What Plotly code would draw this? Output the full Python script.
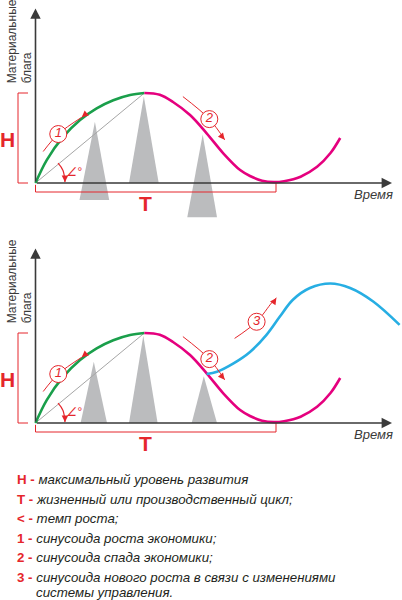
import plotly.graph_objects as go

# cycle curves, time units (t) and level units (v)
growth_t = [0, 1.02, 2.53, 4.05, 5.56, 7.07, 8.6, 9.9]
growth_v = [0, 2.55, 5.15, 7.0, 8.3, 9.2, 9.78, 10]
decline_t = [9.9, 11.3, 12.5, 14.05, 15.56, 17.07, 18.6, 19.5, 20.6, 21.7, 22.6, 24.1, 25.6, 26.8, 27.7]
decline_v = [10, 9.8, 9.0, 7.55, 5.52, 3.3, 1.44, 0.78, 0.25, 0.1, 0.2, 0.7, 1.8, 3.3, 5.0]
new_t = [15.56, 16.5, 18.0, 19.5, 21.0, 22.2, 23.4, 24.95, 26.8, 28.6, 30.7, 33.1]
new_v = [5.44, 5.7, 6.63, 7.9, 9.8, 11.8, 13.7, 15.0, 15.5, 15.0, 13.5, 10.9]

# gray spikes (triangles) for each chart
spikes_top_t = [[4.0, 5.4, 6.7], [8.5, 9.85, 11.2], [13.8, 15.2, 16.5]]
spikes_top_v = [[-1.9, 6.8, -1.9], [0, 9.6, 0], [-3.8, 5.4, -3.8]]
spikes_bot_t = [[4.1, 5.3, 6.5], [8.5, 9.8, 11.1], [14.2, 15.3, 16.5]]
spikes_bot_v = [[0, 6.8, 0], [0, 9.7, 0], [0, 5.2, 0]]

# numbered arrows: start, circle, end
arrow1_t = [0.7, 2.07, 4.2]
arrow1_v = [3.5, 5.44, 7.3]
arrow2_t = [13.4, 15.8, 17.2]
arrow2_v = [9.6, 7.1, 4.8]
arrow3_t = [18.1, 20.1, 21.5, 21.9]
arrow3_v = [9.4, 11.25, 13.4, 13.9]

# angle arc near origin
arc_t = [2.05, 2.5, 2.68]
arc_v = [2.2, 1.4, 0.1]

legend_keys = ["H -", "T -", "< -", "1 -", "2 -", "3 -", ""]
legend_texts = [
    "максимальный уровень развития",
    "жизненный или производственный цикл;",
    "темп роста;",
    "синусоида роста экономики;",
    "синусоида спада экономики;",
    "синусоида нового роста в связи с изменениями",
    "системы управления.",
]

RED = "#e5262c"
GREEN = "#1a9f4b"
PINK = "#e5007e"
BLUE = "#27aee3"
GRAY = "#bbbcbe"
DARK = "#3a3a3a"
FONT = "Liberation Sans"

W, H = 402, 600
PX_T = 11.0   # pixels per t unit
PX_V = 9.0    # pixels per v unit
X0 = 35.5     # origin x pixel

fig = go.Figure()
annotations = []


def tp(px):
    return (px - X0) / PX_T


def add_chart(xr, yr, spikes_t, spikes_v, with_new):
    for st, sv in zip(spikes_t, spikes_v):
        fig.add_trace(go.Scatter(x=st, y=sv, fill="toself", fillcolor=GRAY,
                                 mode="lines", line=dict(width=0, color=GRAY),
                                 xaxis=xr, yaxis=yr, hoverinfo="skip"))
    # diagonal to the peak
    fig.add_trace(go.Scatter(x=[growth_t[0], growth_t[-1]], y=[growth_v[0], growth_v[-1]],
                             mode="lines", line=dict(color="#a6a6a6", width=1),
                             xaxis=xr, yaxis=yr, hoverinfo="skip"))
    fig.add_trace(go.Scatter(x=growth_t, y=growth_v, mode="lines",
                             line=dict(color=GREEN, width=2.6, shape="spline"),
                             xaxis=xr, yaxis=yr))
    fig.add_trace(go.Scatter(x=decline_t, y=decline_v, mode="lines",
                             line=dict(color=PINK, width=2.6, shape="spline"),
                             xaxis=xr, yaxis=yr))
    if with_new:
        fig.add_trace(go.Scatter(x=new_t, y=new_v, mode="lines",
                                 line=dict(color=BLUE, width=2.6, shape="spline"),
                                 xaxis=xr, yaxis=yr))
    # H bracket
    fig.add_trace(go.Scatter(x=[tp(28), tp(18), tp(18), tp(28)], y=[10, 10, 0, 0],
                             mode="lines", line=dict(color=RED, width=1),
                             xaxis=xr, yaxis=yr))
    # T bracket
    fig.add_trace(go.Scatter(x=[0, 0, tp(276), tp(276)], y=[-0.2, -1.0, -1.0, 0],
                             mode="lines", line=dict(color=RED, width=1),
                             xaxis=xr, yaxis=yr))
    # angle arc
    fig.add_trace(go.Scatter(x=arc_t, y=arc_v, mode="lines",
                             line=dict(color=RED, width=1.2, shape="spline"),
                             xaxis=xr, yaxis=yr))
    arrows = [(arrow1_t, arrow1_v, "1", 6, -5), (arrow2_t, arrow2_v, "2", -5, -6)]
    if with_new:
        arrows.append((arrow3_t, arrow3_v, "3", -4, 6))
    for at, av, num, dx, dy in arrows:
        fig.add_trace(go.Scatter(x=at, y=av, mode="lines",
                                 line=dict(color=RED, width=1, shape="spline"),
                                 xaxis=xr, yaxis=yr))
        fig.add_trace(go.Scatter(x=[at[1]], y=[av[1]], mode="markers+text",
                                 text=[f"<i>{num}</i>"],
                                 textposition="middle center",
                                 textfont=dict(color=RED, size=13, family=FONT),
                                 marker=dict(size=17, color="white", line=dict(color=RED, width=1)),
                                 xaxis=xr, yaxis=yr))
        annotations.append(dict(x=at[-1], y=av[-1], xref=xr, yref=yr, ax=dx, ay=dy,
                                text="", showarrow=True, arrowhead=2, arrowsize=1.1,
                                arrowwidth=1.2, arrowcolor=RED))
    # arc arrowhead
    annotations.append(dict(x=arc_t[-1], y=arc_v[-1], xref=xr, yref=yr, ax=0, ay=-6,
                            text="", showarrow=True, arrowhead=2, arrowsize=1.1,
                            arrowwidth=1.2, arrowcolor=RED))
    # axes with arrowheads
    annotations.append(dict(x=tp(392), y=0, ax=0, ay=0, xref=xr, yref=yr, axref=xr, ayref=yr,
                            text="", showarrow=True, arrowhead=2, arrowsize=1.3,
                            arrowwidth=1.6, arrowcolor=DARK))
    annotations.append(dict(x=0, y=19.4, ax=0, ay=0, xref=xr, yref=yr, axref=xr, ayref=yr,
                            text="", showarrow=True, arrowhead=2, arrowsize=1.3,
                            arrowwidth=1.6, arrowcolor=DARK))
    # labels
    annotations.append(dict(x=tp(7), y=4.8, xref=xr, yref=yr, text="<b>H</b>", showarrow=False,
                            font=dict(color=RED, size=21, family=FONT)))
    annotations.append(dict(x=10, y=-2.3, xref=xr, yref=yr, text="<b>T</b>", showarrow=False,
                            font=dict(color=RED, size=21, family=FONT)))
    annotations.append(dict(x=3.5, y=1.2, xref=xr, yref=yr, text="<i>∠°</i>", showarrow=False,
                            font=dict(color=RED, size=12, family=FONT)))
    annotations.append(dict(x=30.7, y=-1.3, xref=xr, yref=yr, text="<i>Время</i>", showarrow=False,
                            font=dict(color=DARK, size=13, family=FONT)))
    annotations.append(dict(x=tp(19.5), y=10.8, xref=xr, yref=yr, text="Материальные<br>блага",
                            textangle=-90, showarrow=False, align="left", yanchor="bottom",
                            font=dict(color=DARK, size=12, family=FONT)))


add_chart("x", "y", spikes_top_t, spikes_top_v, False)
add_chart("x2", "y2", spikes_bot_t, spikes_bot_v, True)

legend_y = [479, 499, 518, 538, 557, 577, 592]
for key, txt, py in zip(legend_keys, legend_texts, legend_y):
    label = (f"<span style='color:{RED}'><b>{key}</b></span> <i>{txt}</i>"
             if key else f"<i>{txt}</i>")
    annotations.append(dict(x=15 / W if key else 34 / W, y=1 - py / H, xref="paper", yref="paper",
                            text=label, showarrow=False, xanchor="left", yanchor="middle",
                            font=dict(color="#231f20", size=13.3, family=FONT)))

xrange = [-X0 / PX_T, (W - X0) / PX_T]
yrange = [(183 - 225) / PX_V, 183 / PX_V]
ax_style = dict(range=xrange, showgrid=False, zeroline=False, showticklabels=False,
                showline=False, fixedrange=True)
ay_style = dict(range=yrange, showgrid=False, zeroline=False, showticklabels=False,
                showline=False, fixedrange=True)

fig.update_layout(
    width=W, height=H,
    margin=dict(l=0, r=0, t=0, b=0),
    paper_bgcolor="white", plot_bgcolor="white",
    showlegend=False,
    xaxis=dict(domain=[0, 1], anchor="y", **ax_style),
    yaxis=dict(domain=[1 - 225 / H, 1], anchor="x", **ay_style),
    xaxis2=dict(domain=[0, 1], anchor="y2", **ax_style),
    yaxis2=dict(domain=[1 - 465 / H, 1 - 240 / H], anchor="x2", **ay_style),
    annotations=annotations,
)

fig.write_html("out.html", config={"displayModeBar": False},
               post_script="document.body.style.margin='0';")
